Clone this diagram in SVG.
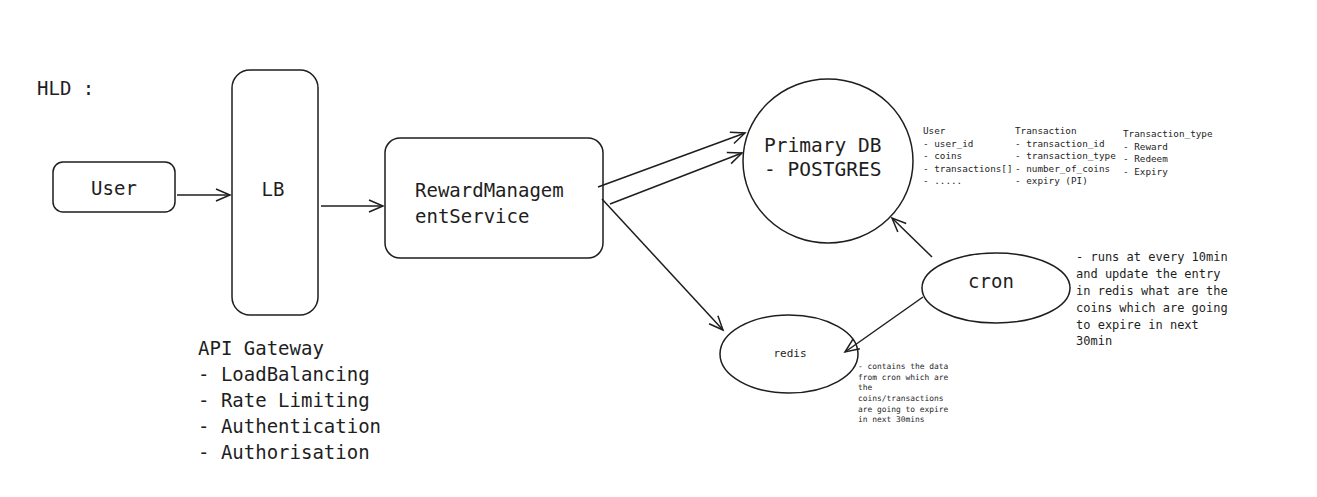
<svg xmlns="http://www.w3.org/2000/svg" width="1317" height="497" viewBox="0 0 1317 497">
<defs>
<style>
.s{fill:none;stroke:#1e1e1e;stroke-width:1.5}
.t{font-family:"DejaVu Sans Mono","Liberation Mono",monospace;fill:#1e1e1e}
.c{stroke:#1e1e1e;stroke-width:1.5;fill:none;marker-end:url(#ah)}
</style>
<marker id="ah" markerWidth="20" markerHeight="20" refX="16" refY="8" orient="auto" markerUnits="userSpaceOnUse">
<path d="M2,2 L16,8 L2,14" fill="none" stroke="#1e1e1e" stroke-width="1.5"/>
</marker>
</defs>
<rect width="1317" height="497" fill="#ffffff"/>
<text class="t" x="37" y="95" font-size="19">HLD :</text>
<g id="user">
<rect class="s" x="53" y="162" width="122" height="50" rx="10"/>
<text class="t" x="114" y="195" font-size="19" text-anchor="middle">User</text>
</g>
<g id="lb">
<rect class="s" x="232" y="70" width="86" height="245" rx="18"/>
<text class="t" x="273" y="196" font-size="19" text-anchor="middle">LB</text>
</g>
<g id="rms">
<rect class="s" x="385" y="138" width="218" height="120" rx="15"/>
<text class="t" x="415" y="197" font-size="19">RewardManagem</text>
<text class="t" x="415" y="223" font-size="19">entService</text>
</g>
<g id="primarydb">
<ellipse class="s" cx="828" cy="161" rx="85" ry="82"/>
<text class="t" x="764" y="152" font-size="19.5">Primary DB</text>
<text class="t" x="764" y="176" font-size="19.5">- POSTGRES</text>
</g>
<g id="cron">
<ellipse class="s" cx="996" cy="288" rx="74" ry="35"/>
<text class="t" x="991" y="288" font-size="19" text-anchor="middle">cron</text>
</g>
<g id="redis">
<ellipse class="s" cx="789" cy="354" rx="69" ry="39"/>
<text class="t" x="790" y="357" font-size="11" text-anchor="middle">redis</text>
</g>
<g id="connectors">
<line class="c" x1="177" y1="195" x2="230" y2="195"/>
<line class="c" x1="321" y1="206" x2="383" y2="206"/>
<line class="c" x1="598" y1="187" x2="745" y2="133"/>
<line class="c" x1="610" y1="204" x2="742" y2="153"/>
<line class="c" x1="602" y1="199" x2="723" y2="330"/>
<line class="c" x1="932" y1="257" x2="892" y2="218"/>
<line class="c" x1="923" y1="297" x2="845" y2="352"/>
</g>
<g id="api-gateway-notes">
<text class="t" font-size="19"><tspan x="198" y="355">API Gateway</tspan><tspan x="198" y="381">- LoadBalancing</tspan><tspan x="198" y="407">- Rate Limiting</tspan><tspan x="198" y="433">- Authentication</tspan><tspan x="198" y="459">- Authorisation</tspan></text>
</g>
<g id="schema-notes">
<text class="t" font-size="9.3"><tspan x="923" y="134">User</tspan><tspan x="923" y="147">- user_id</tspan><tspan x="923" y="159">- coins</tspan><tspan x="923" y="172">- transactions[]</tspan><tspan x="923" y="184">- .....</tspan></text>
<text class="t" font-size="9.3"><tspan x="1015" y="134">Transaction</tspan><tspan x="1015" y="147">- transaction_id</tspan><tspan x="1015" y="159">- transaction_type</tspan><tspan x="1015" y="172">- number_of_coins</tspan><tspan x="1015" y="184">- expiry (PI)</tspan></text>
<text class="t" font-size="9.3"><tspan x="1123" y="137">Transaction_type</tspan><tspan x="1123" y="150">- Reward</tspan><tspan x="1123" y="162">- Redeem</tspan><tspan x="1123" y="175">- Expiry</tspan></text>
</g>
<g id="redis-notes">
<text class="t" font-size="7.9"><tspan x="858" y="369">- contains the data</tspan><tspan x="858" y="380">from cron which are</tspan><tspan x="858" y="390">the</tspan><tspan x="858" y="401">coins/transactions</tspan><tspan x="858" y="412">are going to expire</tspan><tspan x="858" y="422">in next 30mins</tspan></text>
</g>
<g id="cron-notes">
<text class="t" font-size="12"><tspan x="1076" y="261">- runs at every 10min</tspan><tspan x="1076" y="278">and update the entry</tspan><tspan x="1076" y="295">in redis what are the</tspan><tspan x="1076" y="312">coins which are going</tspan><tspan x="1076" y="329">to expire in next</tspan><tspan x="1076" y="345">30min</tspan></text>
</g>
</svg>
